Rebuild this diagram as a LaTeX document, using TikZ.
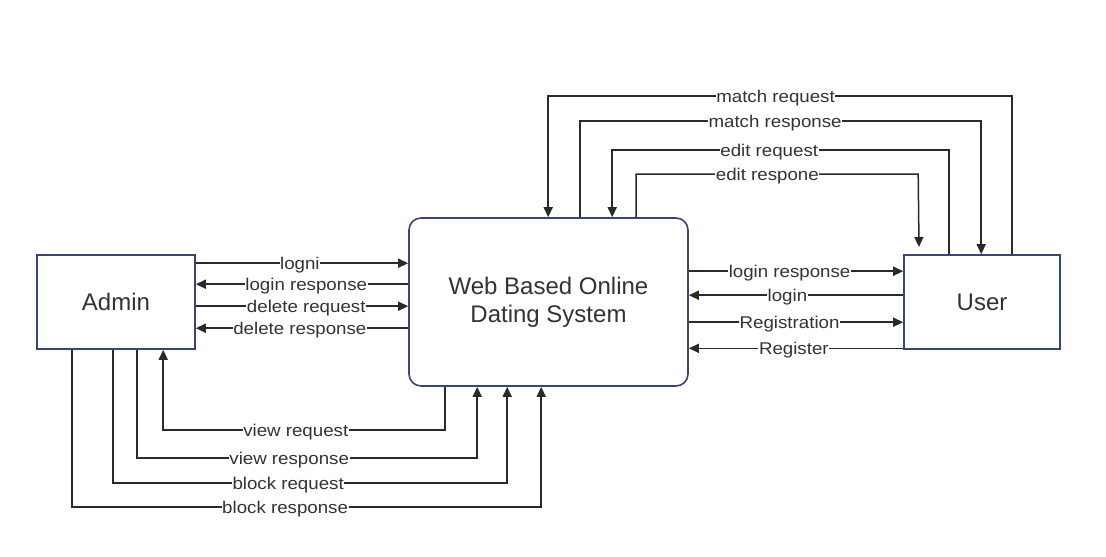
\documentclass[tikz,border=0pt]{standalone}
\usepackage{fontspec}
\setmainfont{Liberation Sans}
\newfontfamily\lblfont[FakeStretch=1.1]{Liberation Sans}
\usetikzlibrary{arrows.meta}
\definecolor{boxline}{HTML}{3A4570}
\definecolor{lineclr}{HTML}{2A2A2A}
\definecolor{txt}{HTML}{333333}
\tikzset{
  entity/.style={draw=boxline, line width=1.6pt, fill=white, inner sep=0pt,
    font=\fontsize{24}{28}\selectfont, text=txt, align=center},
  flow/.style={draw=lineclr, line width=1.5pt, -{Triangle[length=10pt,width=9pt]}},
  lbl/.style={fill=white, inner sep=0.6pt, text=txt, yshift=-2pt,
    font=\lblfont\fontsize{17}{19}\selectfont}
}
\begin{document}
\begin{tikzpicture}[x=1pt,y=-1pt]
\useasboundingbox (0,0) rectangle (1106,557);
\fill[white] (0,0) rectangle (1106,557);

\node[entity, minimum width=158pt, minimum height=94pt] (admin) at (116,302) {Admin};
\node[entity, minimum width=279pt, minimum height=168pt, rounded corners=12pt] (sys) at (548.5,302) {Web Based Online\\Dating System};
\node[entity, minimum width=156pt, minimum height=94pt] (user) at (982,302) {User};

% Admin <-> System
\coordinate (a1) at ([yshift=-9pt]admin.north east);
\coordinate (a2) at ([yshift=-30pt]admin.north east);
\coordinate (a3) at ([yshift=-52pt]admin.north east);
\coordinate (a4) at ([yshift=-74pt]admin.north east);
\draw[flow] (a1) -- node[lbl,pos=0.49]{logni} (a1 -| sys.west);
\draw[flow] (a2 -| sys.west) -- node[lbl,pos=0.48]{login response} (a2);
\draw[flow] (a3) -- node[lbl,pos=0.52]{delete request} (a3 -| sys.west);
\draw[flow] (a4 -| sys.west) -- node[lbl,pos=0.51]{delete response} (a4);

% System <-> User
\coordinate (u1) at ([yshift=-17pt]user.north west);
\coordinate (u2) at ([yshift=-41pt]user.north west);
\coordinate (u3) at ([yshift=-68pt]user.north west);
\coordinate (u4) at ([yshift=1.5pt]user.south west);
\draw[flow] (u1 -| sys.east) -- node[lbl,pos=0.47]{login response} (u1);
\draw[flow] (u2) -- node[lbl,pos=0.54]{login} (u2 -| sys.east);
\draw[flow] (u3 -| sys.east) -- node[lbl,pos=0.47]{Registration} (u3);
\draw[flow] (u4) -- node[lbl,pos=0.51]{Register} (u4 -| sys.east);

% Top loops
\coordinate (t1s) at ([xshift=109pt]user.north west);
\coordinate (t1e) at ([xshift=140pt]sys.north west);
\draw[flow] (t1s) -- ++(0,-158) -- node[lbl,pos=0.51]{match request} ++(-464,0) -- (t1e);

\coordinate (t2s) at ([xshift=172pt]sys.north west);
\coordinate (t2e) at ([xshift=78pt]user.north west);
\draw[flow] (t2s) -- ++(0,-96) -- node[lbl,pos=0.486]{match response} ++(401,0) -- (t2e);

\coordinate (t3s) at ([xshift=46pt]user.north west);
\coordinate (t3e) at ([xshift=204pt]sys.north west);
\draw[flow] (t3s) -- ++(0,-104) -- node[lbl,pos=0.534]{edit request} ++(-337,0) -- (t3e);

\coordinate (t4s) at ([xshift=228pt]sys.north west);
\coordinate (t4e) at (919,247);
\draw[flow] (t4s) -- ++(0,-43) -- node[lbl,pos=0.465]{edit respone} ++(282,0) -- (t4e);

% Bottom loops
\coordinate (b1s) at ([xshift=37pt]sys.south west);
\coordinate (b1e) at ([xshift=127pt]admin.south west);
\draw[flow] (b1s) -- ++(0,43) -- node[lbl,pos=0.53]{view request} ++(-282,0) -- (b1e);

\coordinate (b2s) at ([xshift=101pt]admin.south west);
\coordinate (b2e) at ([xshift=69pt]sys.south west);
\draw[flow] (b2s) -- ++(0,108) -- node[lbl,pos=0.447]{view response} ++(340,0) -- (b2e);

\coordinate (b3s) at ([xshift=77pt]admin.south west);
\coordinate (b3e) at ([xshift=99pt]sys.south west);
\draw[flow] (b3s) -- ++(0,133) -- node[lbl,pos=0.444]{block request} ++(394,0) -- (b3e);

\coordinate (b4s) at ([xshift=36pt]admin.south west);
\coordinate (b4e) at ([xshift=133pt]sys.south west);
\draw[flow] (b4s) -- ++(0,157) -- node[lbl,pos=0.454]{block response} ++(469,0) -- (b4e);
\end{tikzpicture}
\end{document}
